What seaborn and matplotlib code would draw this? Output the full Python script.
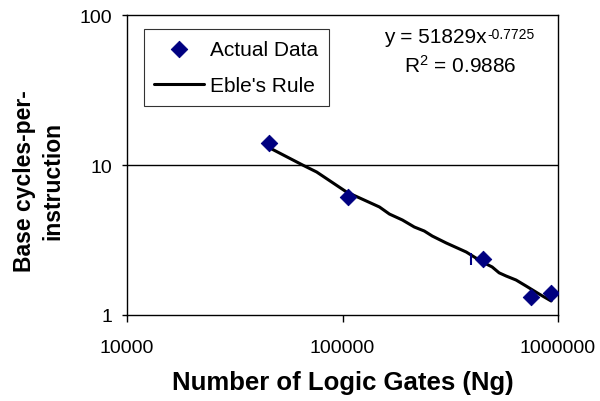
import numpy as np
import pandas as pd
import seaborn as sns
from matplotlib import pyplot as plt
from matplotlib import ticker as plticker

# measured points (logic gates vs base CPI)
gates = [45400, 106600, 449500, 750000, 929000]
cpi = [14.0, 6.12, 2.36, 1.32, 1.40]

# stray blue tick left of the third point
stray_x = [395000]
stray_y = [2.36]

# Eble's rule curve
rule_x = [45000, 65300, 75900, 104400, 148400, 165100, 189600, 215400,
          239600, 261000, 303000, 375000, 444500, 494700, 533000, 574000,
          639000, 711000, 817000, 929000]
rule_y = [13.2, 10.0, 8.98, 6.61, 5.25, 4.71, 4.30, 3.86, 3.63, 3.36,
          3.02, 2.63, 2.26, 2.09, 1.91, 1.82, 1.71, 1.56, 1.38, 1.24]

x_ticks = [10000, 100000, 1000000]
y_ticks = [1, 10, 100]

sns.set_theme(style='white', rc={'text.color': 'black',
                                 'axes.labelcolor': 'black',
                                 'xtick.color': 'black',
                                 'ytick.color': 'black'})
plt.rcParams['font.family'] = ['Liberation Sans', 'DejaVu Sans']
plt.rcParams['mathtext.fontset'] = 'custom'
plt.rcParams['mathtext.rm'] = 'Liberation Sans'
plt.rcParams['mathtext.it'] = 'Liberation Sans'

fig = plt.figure(figsize=(6, 4.02), dpi=100)
ax = fig.add_axes([0.2117, 0.214, 0.7183, 0.746])

data = pd.DataFrame({'gates': gates, 'cpi': cpi})
rule = pd.DataFrame({'gates': rule_x, 'cpi': rule_y})

sns.lineplot(data=rule, x='gates', y='cpi', color='black', linewidth=2.2,
             ax=ax, label="Eble's Rule", zorder=3)
sns.scatterplot(data=data, x='gates', y='cpi', marker='D', s=70,
                color='#000080', edgecolor='#000080', ax=ax,
                label='Actual Data', zorder=4)
ax.plot(stray_x, stray_y, marker='|', markersize=9, markeredgewidth=1.5,
        color='#000080', linestyle='none', zorder=4)

ax.set_xscale('log')
ax.set_yscale('log')
ax.set_xlim(10000, 1000000)
ax.set_ylim(1, 100)

ax.xaxis.set_major_locator(plticker.FixedLocator(x_ticks))
ax.yaxis.set_major_locator(plticker.FixedLocator(y_ticks))
ax.xaxis.set_minor_locator(plticker.NullLocator())
ax.yaxis.set_minor_locator(plticker.NullLocator())
ax.xaxis.set_major_formatter(plticker.FuncFormatter(lambda v, p: f'{int(v)}'))
ax.yaxis.set_major_formatter(plticker.FuncFormatter(lambda v, p: f'{int(v)}'))

ax.tick_params(axis='both', which='major', labelsize=14, direction='out',
               width=1, color='black', labelcolor='black',
               bottom=True, left=True)
ax.tick_params(axis='x', length=5, pad=12)
ax.tick_params(axis='y', length=3.6, pad=7)

# horizontal gridline at 10
ax.axhline(10, color='black', linewidth=1, zorder=1)

for side in ['top', 'right', 'bottom', 'left']:
    ax.spines[side].set_color('black')
    ax.spines[side].set_linewidth(1)

ax.set_xlabel('Number of Logic Gates (Ng)', fontsize=18.5, fontweight='bold')
ax.xaxis.set_label_coords(0.5, -0.182)
ax.set_ylabel('Base cycles-per-\ninstruction', fontsize=16.5,
              fontweight='bold', linespacing=1.3)
ax.yaxis.set_label_coords(-0.145, 0.45)

handles, labels = ax.get_legend_handles_labels()
order = [labels.index('Actual Data'), labels.index("Eble's Rule")]
leg = ax.legend([handles[i] for i in order], [labels[i] for i in order],
                loc='upper left', bbox_to_anchor=(0.039, 0.953),
                fontsize=15, frameon=True, fancybox=False,
                edgecolor='black', borderpad=0.5, handlelength=2.4,
                handletextpad=0.3, labelspacing=0.85, borderaxespad=0)
leg.get_frame().set_linewidth(0.8)

# fit equation, exponent as a small raised text
eq = ax.text(0.596, 0.91, 'y = 51829x', transform=ax.transAxes,
             ha='left', va='baseline', fontsize=15)
ax.annotate('-0.7725', xy=(1.0, 1.0), xycoords=eq, xytext=(0.5, 0),
            textcoords='offset points', ha='left', va='top', fontsize=10)
ax.text(0.773, 0.81, 'R$^{2}$ = 0.9886', transform=ax.transAxes,
        ha='center', va='baseline', fontsize=15)

fig.savefig('out.png', dpi=100)
